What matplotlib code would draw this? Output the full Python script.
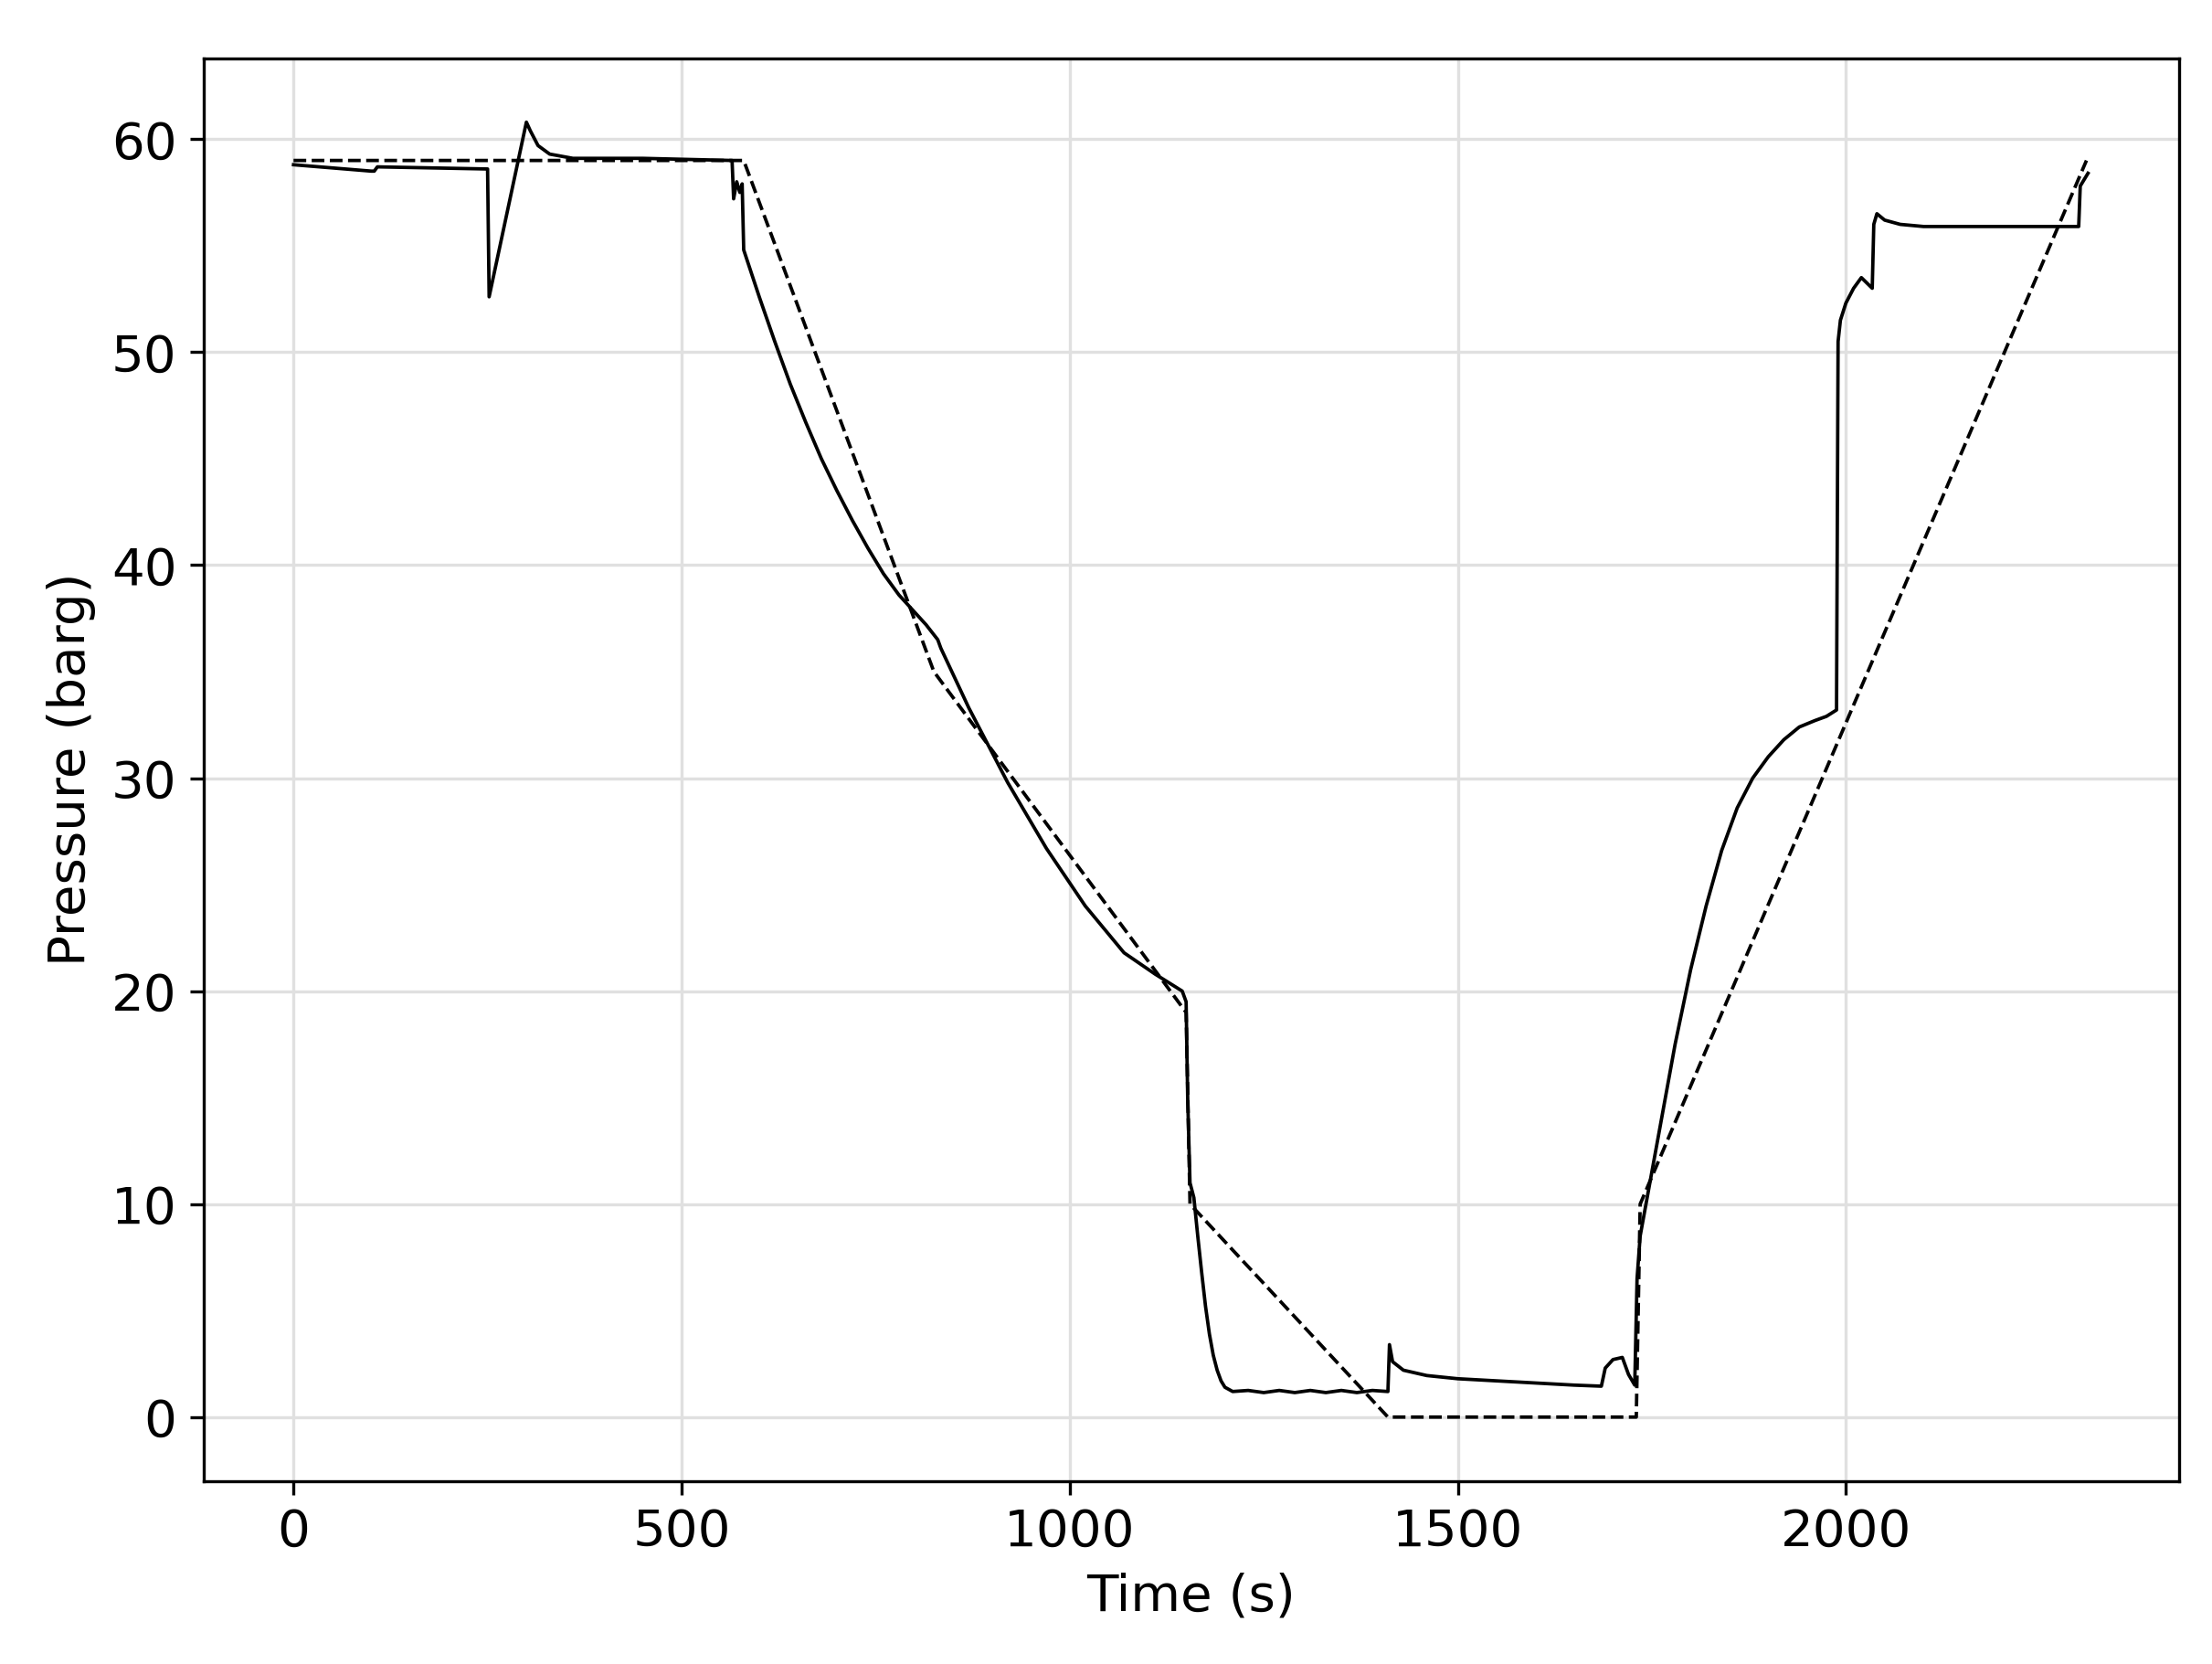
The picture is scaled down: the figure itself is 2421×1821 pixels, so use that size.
import matplotlib
matplotlib.use("agg")
import matplotlib.pyplot as plt

# setpoint (dashed)
sp_t = [0, 580, 825, 1150, 1155, 1410, 1730, 1735, 2310]
sp_p = [59, 59, 35, 19, 10, 0, 0, 10, 59]

# measured pressure (solid)
pv_t = [0, 100, 104, 108, 250, 252, 300, 305, 315, 330, 360, 450, 565, 567, 571, 575, 578,
        580, 600, 620, 640, 660, 680, 700, 720, 740, 760, 780, 800, 815, 830, 834, 870, 920, 970,
        1020, 1070, 1110, 1145, 1150,
        1152, 1155, 1160, 1165, 1170, 1175, 1180, 1185, 1190, 1195, 1200, 1210,
        1230, 1250, 1270, 1290, 1310, 1330, 1350, 1370, 1390, 1410,
        1412, 1416, 1430, 1460, 1500, 1550, 1600, 1650, 1685, 1690, 1700, 1712, 1720, 1728,
        1731, 1735, 1745, 1760, 1780, 1800, 1820, 1840, 1860, 1880, 1900, 1920, 1940, 1960, 1975, 1988,
        1990, 1993, 2000, 2010, 2020, 2034, 2036, 2040, 2050, 2070, 2100, 2200, 2300,
        2302, 2312]
pv_p = [58.8, 58.5, 58.5, 58.7, 58.6, 52.6, 60.8, 60.4, 59.7, 59.3, 59.1, 59.1, 59.0, 57.2, 58.0, 57.5, 57.9,
        54.8, 52.6, 50.5, 48.5, 46.7, 45.0, 43.5, 42.1, 40.8, 39.6, 38.6, 37.8, 37.2, 36.5, 36.1, 33.3, 29.8, 26.7,
        24.0, 21.8, 20.8, 20.0, 19.5,
        15, 11, 10.3, 8.5, 6.8, 5.2, 3.9, 2.9, 2.2, 1.7, 1.4, 1.2,
        1.25, 1.15, 1.25, 1.15, 1.25, 1.15, 1.25, 1.15, 1.25, 1.2,
        3.4, 2.6, 2.2, 1.95, 1.8, 1.7, 1.6, 1.5, 1.45, 2.3, 2.7, 2.8, 2.0, 1.5,
        6.5, 8.5, 10.5, 13.5, 17.5, 21.0, 24.0, 26.6, 28.6, 30.0, 31.0, 31.8, 32.4, 32.7, 32.9, 33.2,
        50.5, 51.5, 52.3, 53.0, 53.5, 53.0, 56.0, 56.5, 56.2, 56.0, 55.9, 55.9, 55.9,
        57.8, 58.4]

fig, ax = plt.subplots(figsize=(8.07, 6.07), dpi=300)
ax.plot(sp_t, sp_p, color="black", linestyle="--", linewidth=0.9)
ax.plot(pv_t, pv_p, color="black", linewidth=0.9)
ax.set_xlim(-116, 2429)
ax.set_ylim(-3, 63.8)
ax.set_xticks([0, 500, 1000, 1500, 2000])
ax.set_yticks([0, 10, 20, 30, 40, 50, 60])
ax.grid(True, color="#e0e0e0", linewidth=0.8)
ax.set_xlabel("Time (s)", fontsize=13.5)
ax.set_ylabel("Pressure (barg)", fontsize=13.5)
ax.tick_params(labelsize=13.5)
plt.subplots_adjust(left=0.092, right=0.985, top=0.965, bottom=0.11)
plt.savefig("out.png")
